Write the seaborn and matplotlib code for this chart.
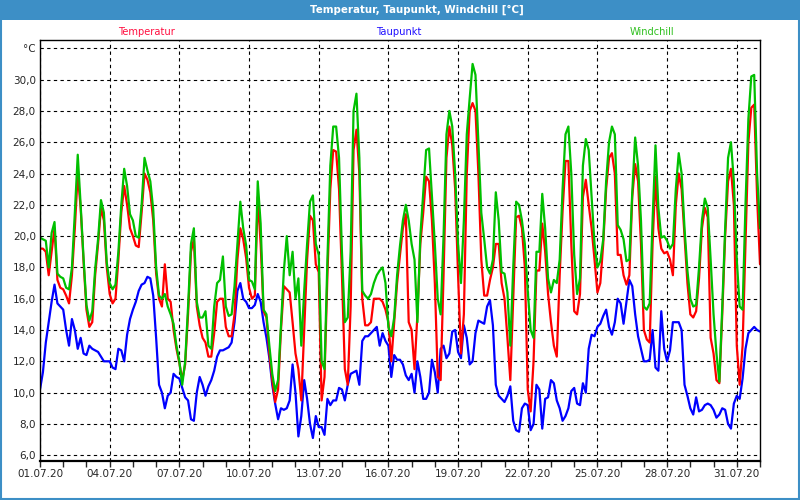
import pandas as pd
import seaborn as sns
import matplotlib.pyplot as plt
import matplotlib.dates as mdates
from matplotlib.patches import Rectangle

# 3-hourly readings, 01.07.2020 00:00 to 01.08.2020 00:00
temperatur = [
    19.2, 19.2, 19.0, 17.5, 19.0, 20.5, 17.2, 16.7, 16.6, 16.2,
    15.7, 17.5, 20.5, 24.0, 21.8, 18.4, 15.3, 14.2, 14.5, 17.5,
    19.5, 21.8, 21.0, 18.0, 16.3, 15.7, 16.0, 18.5, 21.5, 23.2,
    22.0, 20.5, 20.0, 19.4, 19.3, 21.5, 24.0, 23.6, 22.8, 21.0,
    17.6, 16.0, 15.5, 18.2, 16.0, 15.8, 14.0, 12.8, 11.9, 10.8,
    11.8, 15.0, 19.0, 19.8, 15.5, 14.3, 13.5, 13.2, 12.3, 12.3,
    13.8, 15.8, 16.0, 16.0, 14.2, 13.6, 13.6, 15.0, 18.5, 20.5,
    19.8, 18.6, 16.7, 16.0, 16.2, 22.5, 19.5, 15.2, 14.8, 12.5,
    10.8, 9.4, 10.2, 14.0, 16.8, 16.6, 16.4, 14.5, 12.5, 11.5,
    9.5, 14.0, 18.5, 21.3, 21.0, 18.2, 17.7, 9.5, 11.0, 17.5,
    23.0, 25.5, 25.4, 23.0, 17.5, 11.5, 10.5, 15.5, 25.5, 26.8,
    24.0, 16.0, 14.3, 14.3, 14.5, 16.0, 16.0, 16.0, 15.8, 15.3,
    14.5, 12.0, 14.5, 17.0, 18.8, 20.5, 21.4, 14.5, 14.0, 11.5,
    15.0, 19.5, 21.5, 23.8, 23.5, 21.0, 17.0, 11.0, 10.8, 17.5,
    25.0, 27.0, 25.8, 23.0, 17.5, 12.5, 15.0, 24.0, 28.0, 28.5,
    28.0, 24.0, 18.5, 16.2, 16.2, 17.2, 18.0, 19.5, 19.5, 17.0,
    16.0, 13.5, 10.8, 16.0, 21.2, 21.3, 20.5, 18.0, 10.2, 8.8,
    12.0, 17.8, 17.8, 20.8, 19.0, 16.3, 14.5, 13.0, 12.3, 17.5,
    21.6, 24.8, 24.8, 19.5, 15.2, 15.0, 16.3, 22.5, 23.6, 22.0,
    20.5, 18.5, 16.4, 17.0, 19.5, 23.0, 25.0, 25.3, 24.0, 18.8,
    18.8, 17.5, 16.9, 17.5, 22.5, 24.6, 23.5, 19.5, 14.0, 13.4,
    13.2, 19.5, 23.8, 20.5, 19.2, 18.9, 19.0, 18.5, 17.5, 22.0,
    24.0, 23.0, 20.0, 17.0, 15.0, 14.8, 15.2, 17.3, 20.5, 21.8,
    21.2, 13.5, 12.5, 10.8, 10.6, 15.0, 20.0, 23.5, 24.3, 22.0,
    13.0, 10.5, 13.0, 19.5, 26.0, 28.2, 28.4, 22.5, 18.2,
]
windchill = [
    19.9, 19.8, 19.7, 18.0, 20.2, 20.9, 17.6, 17.4, 17.3, 16.7,
    16.6, 18.0, 21.5, 25.2, 22.0, 18.6, 15.6, 14.6, 15.2, 17.9,
    19.8, 22.3, 21.5, 18.3, 17.0, 16.6, 16.9, 19.0, 22.0, 24.3,
    23.2, 21.4, 21.0, 20.0, 19.9, 22.0, 25.0, 24.2, 23.5, 21.7,
    18.0, 16.2, 16.0, 16.3, 15.5, 15.0, 14.4, 13.0, 12.0, 10.5,
    12.0, 15.5, 19.5, 20.5, 15.8, 14.8, 14.8, 15.2, 13.0, 12.8,
    15.5, 17.0, 17.2, 18.7, 15.5, 14.9, 15.0, 16.8, 19.5, 22.2,
    20.5, 19.4, 17.2, 17.1, 16.6, 23.5, 20.8, 15.3, 15.0, 13.0,
    11.2, 10.1, 10.8, 14.3, 17.8, 20.0, 17.5, 19.0, 16.0, 17.3,
    13.0, 16.5, 19.5, 22.2, 22.6, 19.5, 18.8, 12.0, 11.5, 18.5,
    24.5, 27.0, 27.0, 25.0, 19.0, 14.5, 14.8, 19.0, 28.0, 29.1,
    25.0, 16.5, 16.2, 16.0, 16.3, 17.0, 17.5, 17.8, 18.0, 17.0,
    14.2, 13.6, 14.8, 17.5, 19.4, 21.0, 22.0, 21.0, 19.5, 18.5,
    14.5, 20.0, 22.8, 25.5, 25.6, 22.5, 19.5, 16.0, 15.0, 20.0,
    26.5, 28.0, 27.0, 24.0, 19.5, 17.0, 21.0, 26.5, 28.8, 31.0,
    30.3, 26.0, 21.5, 19.8, 18.0, 17.6, 18.5, 22.8, 21.0, 17.7,
    17.6, 16.4, 13.0, 18.0, 22.2, 22.0, 21.0, 19.5, 16.5, 14.0,
    13.5, 19.0, 19.0, 22.7, 20.5, 17.3, 16.4, 17.2, 17.0, 18.5,
    23.0, 26.5, 27.0, 24.0, 18.8, 16.3, 17.3, 24.5, 26.2, 25.5,
    22.5, 19.5, 18.0, 18.4, 19.8, 23.5, 26.0, 27.0, 26.5, 20.7,
    20.4, 19.8, 18.4, 18.5, 22.8, 26.3, 24.5, 21.0, 15.5, 15.3,
    15.7, 21.0, 25.8, 21.8, 19.9, 20.0, 19.7, 19.2, 19.5, 23.0,
    25.3, 24.0, 20.5, 17.8, 16.0, 15.5, 15.6, 18.0, 21.0, 22.4,
    21.8, 18.5, 15.0, 12.5, 10.7, 15.5, 20.5, 25.0, 26.0, 23.5,
    18.5, 15.5, 15.3, 22.0, 27.5, 30.2, 30.3, 24.0, 20.5,
]
taupunkt = [
    10.2, 11.3, 13.2, 14.5, 15.8, 16.9, 15.7, 15.5, 15.3, 14.0,
    13.0, 14.7, 14.0, 12.8, 13.5, 12.5, 12.4, 13.0, 12.8, 12.7,
    12.6, 12.3, 12.0, 12.0, 12.0, 11.6, 11.5, 12.8, 12.7, 12.0,
    13.7, 14.7, 15.3, 15.8, 16.5, 16.9, 17.0, 17.4, 17.3, 16.2,
    13.5, 10.5, 10.0, 9.0, 9.8, 10.0, 11.2, 11.0, 10.9, 10.3,
    9.7, 9.5, 8.3, 8.2, 10.0, 11.0, 10.5, 9.8, 10.4, 10.8,
    11.4, 12.3, 12.7, 12.7, 12.8, 12.9, 13.2, 14.5, 16.5, 17.0,
    16.0, 15.8, 15.4, 15.4, 15.6, 16.3, 15.8, 14.5, 13.5, 12.2,
    10.5, 9.3, 8.3, 9.0, 8.9, 9.0, 9.5, 11.8, 10.0, 7.2,
    8.5, 10.8, 9.6, 8.0, 7.1, 8.5, 7.8, 7.8, 7.3, 9.6,
    9.2, 9.5, 9.5, 10.3, 10.2, 9.5, 10.5, 11.2, 11.3, 11.4,
    10.5, 13.3, 13.6, 13.6, 13.8, 14.0, 14.2, 13.0, 13.8, 13.3,
    13.0, 11.0, 12.4, 12.1, 12.1, 11.8, 11.1, 10.8, 11.2, 10.0,
    12.0, 11.0, 9.6, 9.6, 10.0, 12.1, 11.3, 10.0, 12.8, 13.0,
    12.2, 12.5, 13.9, 14.0, 12.6, 12.2, 14.3, 13.5, 11.8, 12.0,
    13.8, 14.6, 14.5, 14.4, 15.5, 15.9, 14.3, 10.5, 9.8, 9.6,
    9.4, 9.8, 10.4, 8.2, 7.6, 7.5, 9.0, 9.3, 9.2, 7.6,
    8.0, 10.5, 10.2, 7.7, 9.6, 9.7, 10.8, 10.6, 9.5, 9.0,
    8.2, 8.5, 9.0, 10.1, 10.3, 9.3, 9.2, 10.6, 10.0, 12.8,
    13.7, 13.6, 14.2, 14.4, 14.9, 15.3, 14.2, 13.7, 14.5, 16.0,
    15.7, 14.4, 15.8, 17.2, 16.8, 15.0, 13.6, 12.8, 12.0, 12.0,
    12.1, 14.0, 11.6, 11.4, 15.2, 12.8, 12.0, 12.7, 14.5, 14.5,
    14.5, 14.0, 10.5, 9.8, 9.0, 8.6, 9.7, 8.8, 8.9, 9.2,
    9.3, 9.2, 8.9, 8.4, 8.6, 9.0, 8.9, 8.0, 7.7, 9.3,
    9.8, 9.6, 10.9, 12.8, 13.8, 14.0, 14.2, 14.0, 13.9,
]

tick_labels = ["01.07.20", "04.07.20", "07.07.20", "10.07.20", "13.07.20", "16.07.20",
               "19.07.20", "22.07.20", "25.07.20", "28.07.20", "31.07.20"]
y_ticks = [6, 8, 10, 12, 14, 16, 18, 20, 22, 24, 26, 28, 30, 32]
y_labels = ["6,0", "8,0", "10,0", "12,0", "14,0", "16,0", "18,0", "20,0",
            "22,0", "24,0", "26,0", "28,0", "30,0", "°C"]

colors = {"Taupunkt": "#0000ff", "Temperatur": "#ff0000", "Windchill": "#00c000"}
label_colors = {"Temperatur": "#ff1040", "Taupunkt": "#2010ff", "Windchill": "#30c020"}

times = pd.date_range("2020-07-01", periods=len(temperatur), freq="3h")
df = pd.DataFrame({"Zeit": times, "Temperatur": temperatur,
                   "Taupunkt": taupunkt, "Windchill": windchill})
long = df.melt(id_vars="Zeit", var_name="Reihe", value_name="Wert")

sns.set_style("white")
plt.rcParams['font.family'] = ['DejaVu Sans']

fig = plt.figure(figsize=(8, 5), dpi=100)
ax = fig.add_axes([40 / 800, 1 - 460.7 / 500, 720 / 800, 420.7 / 500])

# dew point first, windchill on top
sns.lineplot(data=long, x="Zeit", y="Wert", hue="Reihe",
             hue_order=["Taupunkt", "Temperatur", "Windchill"],
             palette=colors, linewidth=1.6, legend=False, estimator=None, ax=ax)

# axes
ax.set_xlim(pd.Timestamp("2020-07-01"), pd.Timestamp("2020-08-01"))
ax.set_ylim(5.65, 32.53)
tick_dates = [pd.to_datetime(t, format="%d.%m.%y") for t in tick_labels]
ax.set_xticks(tick_dates)
ax.set_xticklabels(tick_labels, fontsize=7.5)
ax.xaxis.set_minor_locator(mdates.DayLocator())
ax.set_yticks(y_ticks)
ax.set_yticklabels(y_labels, fontsize=7.5)
ax.tick_params(axis="x", which="both", direction="out", length=4, width=1, pad=2, bottom=True)
ax.tick_params(axis="y", length=0, pad=3)
ax.set_xlabel("")
ax.set_ylabel("")
ax.grid(True, which="major", color="black", linestyle=(0, (3, 3)), linewidth=0.8)
for s in ax.spines.values():
    s.set_color("black")
    s.set_linewidth(1)
ax.spines["bottom"].set_linewidth(1.6)

# title bar and frame
fig.patches.append(Rectangle((0, 1 - 20 / 500), 1, 20 / 500, transform=fig.transFigure,
                             facecolor="#3d8fc6", edgecolor="none", zorder=0))
fig.patches.append(Rectangle((0.001, 0.002), 0.998, 0.997, transform=fig.transFigure,
                             fill=False, edgecolor="#3d8fc6", linewidth=1.5))
fig.text(417 / 800, 1 - 10 / 500, "Temperatur, Taupunkt, Windchill [°C]", color="white",
         fontsize=7.4, fontweight="bold", ha="center", va="center")

# series labels
fig.text(147 / 800, 1 - 32 / 500, "Temperatur", color=label_colors["Temperatur"],
         fontsize=7.1, ha="center", va="center")
fig.text(399 / 800, 1 - 32 / 500, "Taupunkt", color=label_colors["Taupunkt"],
         fontsize=7.1, ha="center", va="center")
fig.text(652 / 800, 1 - 32 / 500, "Windchill", color=label_colors["Windchill"],
         fontsize=7.1, ha="center", va="center")

fig.savefig("out.png", dpi=100)
